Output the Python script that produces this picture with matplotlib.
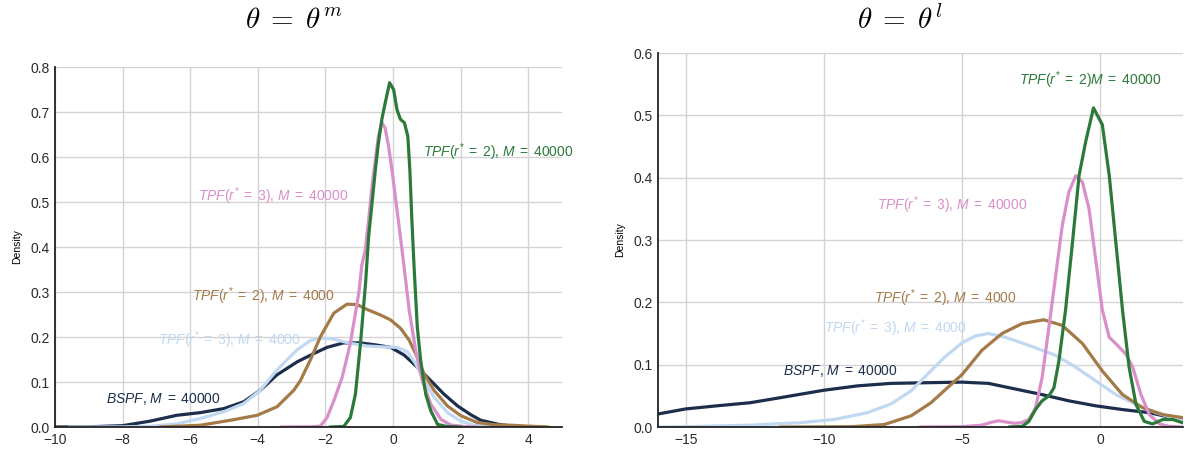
import matplotlib
matplotlib.use("Agg")
import matplotlib.pyplot as plt

plt.rcParams['font.family'] = ['Liberation Sans', 'DejaVu Sans']
plt.rcParams['mathtext.fontset'] = 'custom'
plt.rcParams['mathtext.rm'] = 'Liberation Sans'
plt.rcParams['mathtext.it'] = 'Liberation Sans:italic'
plt.rcParams['mathtext.bf'] = 'Liberation Sans:bold'

# colours of the five runs
c_bspf = '#1d2e4c'
c_r3_4k = '#c0d8f1'
c_r2_4k = '#a47a48'
c_r3_40k = '#d98fc9'
c_r2_40k = '#2b7a3a'

# ---- theta = theta^m (left) ----
bspf_l_x = [-10, -9, -8, -7.19, -6.4, -5.7, -5.0, -4.42, -3.92, -3.43, -2.83, -2.35, -1.95, -1.46,
            -0.96, -0.47, -0.07, 0.33, 0.72, 1.12, 1.51, 1.91, 2.31, 2.6, 3.12, 3.57, 4.25]
bspf_l_y = [0, 0.0005, 0.003, 0.013, 0.026, 0.032, 0.041, 0.056, 0.082, 0.116, 0.145, 0.163, 0.177, 0.187,
            0.187, 0.182, 0.177, 0.16, 0.133, 0.103, 0.073, 0.047, 0.027, 0.015, 0.006, 0.0015, 0]

r3_4k_l_x = [-9.6, -8, -7.19, -6.4, -5.7, -5.0, -4.42, -3.92, -3.43, -2.83, -2.45, -2.15, -1.75, -1.26,
             -0.76, -0.27, 0.13, 0.43, 0.67, 0.92, 1.22, 1.61, 2.01, 2.41, 3.0, 3.5]
r3_4k_l_y = [0, 0.0003, 0.0015, 0.007, 0.019, 0.034, 0.052, 0.082, 0.127, 0.172, 0.192, 0.198, 0.195, 0.186,
             0.18, 0.178, 0.177, 0.167, 0.141, 0.103, 0.066, 0.032, 0.013, 0.004, 0.001, 0]

r2_4k_l_x = [-6.9, -5.7, -4.81, -4.02, -3.43, -2.93, -2.74, -2.45, -2.15, -1.75, -1.36, -1.06, -0.76, -0.37,
             -0.07, 0.23, 0.48, 0.67, 0.92, 1.22, 1.61, 2.01, 2.5, 3.0, 3.5, 4.0, 4.6]
r2_4k_l_y = [0, 0.004, 0.015, 0.026, 0.045, 0.082, 0.103, 0.148, 0.2, 0.253, 0.273, 0.272, 0.261, 0.249,
             0.238, 0.219, 0.193, 0.163, 0.118, 0.081, 0.047, 0.025, 0.010, 0.005, 0.004, 0.002, 0]

r3_40k_l_x = [-3.33, -2.4, -2.15, -1.95, -1.75, -1.5, -1.26, -1.01, -0.92, -0.82, -0.72, -0.62, -0.52, -0.43,
              -0.33, -0.23, -0.13, -0.03, 0.07, 0.17, 0.27, 0.37, 0.48, 0.67, 0.87, 1.12, 1.42, 1.71, 2.1, 2.5]
r3_40k_l_y = [0, 0.0005, 0.002, 0.021, 0.058, 0.111, 0.186, 0.298, 0.36, 0.393, 0.46, 0.534, 0.594, 0.646,
              0.677, 0.664, 0.624, 0.572, 0.512, 0.453, 0.393, 0.33, 0.26, 0.171, 0.103, 0.051, 0.017, 0.0045, 0.001, 0]

r2_40k_l_x = [-1.87, -1.46, -1.26, -1.11, -0.96, -0.81, -0.72, -0.62, -0.52, -0.43, -0.33, -0.23, -0.10, 0.02,
              0.12, 0.22, 0.34, 0.44, 0.50, 0.56, 0.63, 0.72, 0.82, 0.97, 1.12, 1.32, 1.6, 2.0]
r2_40k_l_y = [0, 0.001, 0.021, 0.073, 0.186, 0.32, 0.423, 0.497, 0.572, 0.631, 0.683, 0.72, 0.765, 0.75,
              0.705, 0.684, 0.676, 0.646, 0.572, 0.46, 0.349, 0.223, 0.148, 0.073, 0.036, 0.006, 0.001, 0]

# ---- theta = theta^l (right) ----
bspf_r_x = [-16.05, -15, -13.87, -12.66, -11.45, -10, -8.78, -7.57, -6.36, -5, -4.04, -3.07, -2.1, -1.13,
            -0.16, 0.81, 1.78, 2.5, 3.05]
bspf_r_y = [0.0205, 0.029, 0.034, 0.039, 0.048, 0.059, 0.066, 0.070, 0.071, 0.072, 0.070, 0.061, 0.052, 0.042,
            0.034, 0.028, 0.023, 0.016, 0.010]

r3_4k_r_x = [-16, -15, -12.66, -10.84, -9.64, -8.42, -7.57, -6.84, -6.24, -5.63, -5.0, -4.52, -4.04, -3.43,
             -2.58, -1.61, -0.88, -0.16, 0.57, 1.30, 2.02, 3.05]
r3_4k_r_y = [0, 0.0005, 0.003, 0.007, 0.012, 0.023, 0.037, 0.058, 0.085, 0.112, 0.135, 0.146, 0.150, 0.144,
             0.131, 0.115, 0.096, 0.074, 0.052, 0.036, 0.023, 0.009]

r2_4k_r_x = [-11.6, -9.0, -7.81, -6.84, -6.12, -5.5, -5.0, -4.28, -3.55, -2.82, -2.04, -1.37, -0.64, 0.08,
             0.81, 1.54, 2.27, 3.05]
r2_4k_r_y = [0, 0.0005, 0.004, 0.018, 0.039, 0.064, 0.084, 0.123, 0.150, 0.166, 0.172, 0.163, 0.134, 0.090,
             0.052, 0.031, 0.020, 0.0146]

r3_40k_r_x = [-6.54, -5.0, -4.28, -3.9, -3.67, -3.4, -3.1, -2.85, -2.58, -2.34, -2.1, -1.85, -1.61, -1.37,
              -1.13, -0.88, -0.64, -0.4, -0.16, 0.08, 0.33, 0.63, 0.93, 1.18, 1.48, 1.78, 2.15, 2.5, 3.0]
r3_40k_r_y = [0, 0.0005, 0.003, 0.008, 0.010, 0.008, 0.006, 0.007, 0.012, 0.03, 0.079, 0.161, 0.242, 0.323,
              0.377, 0.403, 0.393, 0.35, 0.269, 0.188, 0.144, 0.131, 0.117, 0.096, 0.052, 0.020, 0.005, 0.001, 0]

r2_40k_r_x = [-3.3, -2.82, -2.58, -2.34, -2.1, -1.85, -1.67, -1.49, -1.25, -1.0, -0.76, -0.52, -0.24, 0.08,
              0.33, 0.57, 0.81, 1.05, 1.30, 1.6, 1.9, 2.27, 2.63, 3.05]
r2_40k_r_y = [0, 0.001, 0.009, 0.028, 0.042, 0.05, 0.063, 0.106, 0.188, 0.296, 0.404, 0.458, 0.512, 0.485,
              0.404, 0.296, 0.188, 0.096, 0.036, 0.009, 0.005, 0.012, 0.012, 0.006]

lbl_bspf = r'$BSPF$, $M\;=\;40000$'
lbl_r3_4k = r'$TPF(r^{*}\;=\;3)$, $M\;=\;4000$'
lbl_r2_4k = r'$TPF(r^{*}\;=\;2)$, $M\;=\;4000$'
lbl_r3_40k = r'$TPF(r^{*}\;=\;3)$, $M\;=\;40000$'
lbl_r2_40k = r'$TPF(r^{*}\;=\;2)$, $M\;=\;40000$'
lbl_r2_40k_b = r'$TPF(r^{*}\;=\;2)M\;=\;40000$'

fig = plt.figure(figsize=(11.85, 4.55), dpi=100)
ax1 = fig.add_axes([0.0464, 0.0615, 0.4278, 0.7912])
ax2 = fig.add_axes([0.5553, 0.0615, 0.4430, 0.8220])


def style(ax, xlim, ylim, xticks, yticks):
    ax.set_xlim(*xlim)
    ax.set_ylim(*ylim)
    ax.set_xticks(xticks)
    ax.set_yticks(yticks)
    ax.set_yticklabels(['%.1f' % v for v in yticks])
    ax.grid(True, color='#d4d4d4', lw=1.0)
    ax.set_axisbelow(True)
    for s in ['top', 'right']:
        ax.spines[s].set_visible(False)
    for s in ['left', 'bottom']:
        ax.spines[s].set_color('#222222')
        ax.spines[s].set_linewidth(1.3)
    ax.tick_params(length=0, labelsize=10, colors='#2a2a2a', pad=4)
    ax.set_ylabel('Density', fontsize=7.5, labelpad=6)


lw = 2.3
kw = dict(lw=lw, solid_joinstyle='round', solid_capstyle='round')
ax1.plot(bspf_l_x, bspf_l_y, color=c_bspf, **kw)
ax1.plot(r3_4k_l_x, r3_4k_l_y, color=c_r3_4k, **kw)
ax1.plot(r2_4k_l_x, r2_4k_l_y, color=c_r2_4k, **kw)
ax1.plot(r3_40k_l_x, r3_40k_l_y, color=c_r3_40k, **kw)
ax1.plot(r2_40k_l_x, r2_40k_l_y, color=c_r2_40k, **kw)
style(ax1, (-10, 5), (0, 0.8), [-10, -8, -6, -4, -2, 0, 2, 4], [0, 0.1, 0.2, 0.3, 0.4, 0.5, 0.6, 0.7, 0.8])

fs = 10
ax1.text(0.89, 0.611, lbl_r2_40k, color=c_r2_40k, fontsize=fs, va='center', clip_on=False)
ax1.text(-5.76, 0.513, lbl_r3_40k, color=c_r3_40k, fontsize=fs, va='center')
ax1.text(-5.96, 0.291, lbl_r2_4k, color=c_r2_4k, fontsize=fs, va='center')
ax1.text(-6.94, 0.193, lbl_r3_4k, color=c_r3_4k, fontsize=fs, va='center')
ax1.text(-8.49, 0.062, lbl_bspf, color=c_bspf, fontsize=fs, va='center')

ax2.plot(bspf_r_x, bspf_r_y, color=c_bspf, **kw)
ax2.plot(r3_4k_r_x, r3_4k_r_y, color=c_r3_4k, **kw)
ax2.plot(r2_4k_r_x, r2_4k_r_y, color=c_r2_4k, **kw)
ax2.plot(r3_40k_r_x, r3_40k_r_y, color=c_r3_40k, **kw)
ax2.plot(r2_40k_r_x, r2_40k_r_y, color=c_r2_40k, **kw)
style(ax2, (-16, 3), (0, 0.6), [-15, -10, -5, 0], [0, 0.1, 0.2, 0.3, 0.4, 0.5, 0.6])

ax2.text(-2.94, 0.557, lbl_r2_40k_b, color=c_r2_40k, fontsize=fs, va='center')
ax2.text(-8.06, 0.356, lbl_r3_40k, color=c_r3_40k, fontsize=fs, va='center')
ax2.text(-8.17, 0.207, lbl_r2_4k, color=c_r2_4k, fontsize=fs, va='center')
ax2.text(-9.98, 0.159, lbl_r3_4k, color=c_r3_4k, fontsize=fs, va='center')
ax2.text(-11.47, 0.09, lbl_bspf, color=c_bspf, fontsize=fs, va='center')

fig.text(294 / 1185, 1 - 20 / 455, r'$\theta\;=\;\theta^{m}$', fontsize=21, ha='center', va='center',
         math_fontfamily='cm')
fig.text(900 / 1185, 1 - 20 / 455, r'$\theta\;=\;\theta^{l}$', fontsize=21, ha='center', va='center',
         math_fontfamily='cm')

fig.savefig('out.png', dpi=100)
